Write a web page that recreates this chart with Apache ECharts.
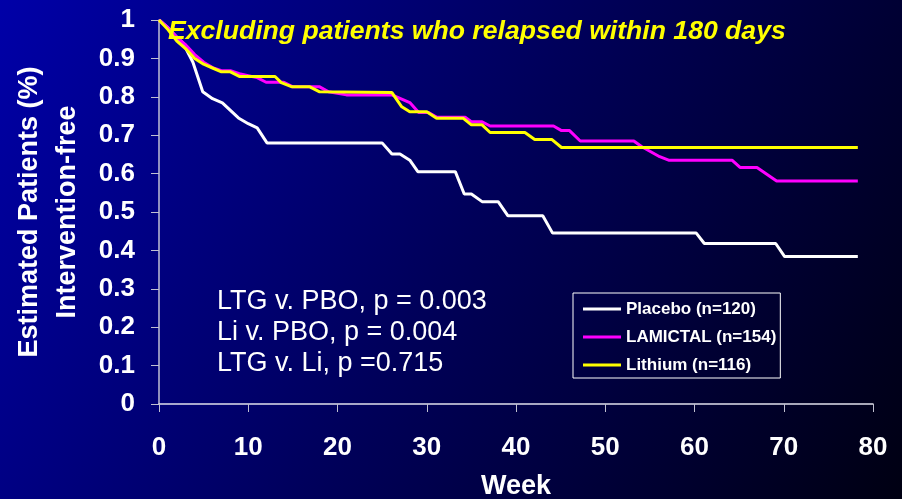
<!DOCTYPE html>
<html>
<head>
<meta charset="utf-8">
<title>Intervention-free</title>
<style>
	html, body { margin: 0; padding: 0; }
	#Chart1 { width: 902px; height: 499px; }
</style>
<script src="https://cdn.jsdelivr.net/npm/echarts@6.0.0/dist/echarts.min.js"></script>
</head>
<body>
<div id="Chart1"></div>
<script>
		// 读图得到的数据 (week, estimated intervention-free)
		var placeboWeeks = [0, 1, 2, 2.7, 3.8, 4.9, 6, 7.1, 8.9, 10, 11, 12.1, 25, 26.1, 27, 28.1, 29, 33.2, 34.2, 35, 36.2, 38, 39.1, 43, 44.1, 60.2, 61.1, 69.1, 70.1, 78.3];
		var placeboRate = [1, 0.98, 0.955, 0.94, 0.89, 0.813, 0.795, 0.784, 0.745, 0.73, 0.719, 0.68, 0.68, 0.651, 0.651, 0.635, 0.605, 0.605, 0.547, 0.547, 0.527, 0.527, 0.49, 0.49, 0.445, 0.445, 0.418, 0.418, 0.384, 0.384];

		var lamictalWeeks = [0, 1, 2, 3, 4, 5, 6, 7, 8, 9, 10, 11, 12, 14, 15, 18, 19, 21, 26.1, 27, 28.1, 29.1, 30.2, 31.1, 34.3, 35, 36.2, 37.1, 44.2, 45.1, 46, 47.2, 53.2, 54.1, 56.1, 57.1, 64.2, 65.1, 67, 69.2, 78.3];
		var lamictalRate = [1, 0.98, 0.955, 0.935, 0.91, 0.89, 0.876, 0.868, 0.868, 0.86, 0.855, 0.85, 0.838, 0.838, 0.826, 0.826, 0.813, 0.805, 0.805, 0.796, 0.785, 0.759, 0.759, 0.747, 0.747, 0.735, 0.735, 0.724, 0.724, 0.712, 0.712, 0.685, 0.685, 0.67, 0.644, 0.635, 0.635, 0.616, 0.616, 0.581, 0.581];

		var lithiumWeeks = [0, 1, 2, 3, 4, 5, 6, 7, 8, 9, 13, 13.7, 14.9, 16.9, 18, 26.1, 27.2, 28.1, 30, 31.1, 34.1, 35, 36.2, 37.1, 41, 42.1, 44, 45.1, 78.3];
		var lithiumRate = [1, 0.975, 0.945, 0.925, 0.9, 0.885, 0.875, 0.865, 0.865, 0.853, 0.853, 0.837, 0.826, 0.826, 0.813, 0.811, 0.774, 0.761, 0.761, 0.744, 0.744, 0.727, 0.727, 0.707, 0.707, 0.689, 0.689, 0.668, 0.668];

		var seriesNames = ['Placebo (n=120)', 'LAMICTAL (n=154)', 'Lithium (n=116)'];
		var pValueLines = ['LTG v. PBO, p = 0.003', 'Li v. PBO, p = 0.004', 'LTG v. Li, p =0.715'];

		function pairs(xs, ys) {
			var out = [];
			for (var i = 0; i < xs.length; i++) {
				out.push([xs[i], ys[i]]);
			}
			return out;
		}

		var font = 'Liberation Sans, Arial, sans-serif';

		var Box1 = document.getElementById('Chart1');
		var instant1 = echarts.init(Box1, null, { renderer: 'canvas' });
		var option1 = {
			animation: false,
			backgroundColor: new echarts.graphic.LinearGradient(0, 0, 1, 1, [
				{ offset: 0, color: '#0000a8' },
				{ offset: 0.5, color: '#00005a' },
				{ offset: 1, color: '#000012' }
			]),
			title: {
				text: 'Excluding patients who relapsed within 180 days',
				left: 168,
				top: 18,
				padding: 0,
				textStyle: {
					color: '#FFFF00',
					fontStyle: 'italic',
					fontWeight: 'bold',
					fontSize: 26.6,
					fontFamily: font
				}
			},
			legend: {
				orient: 'vertical',
				left: 573,
				top: 293,
				padding: [6, 4, 3, 10],
				itemGap: 8,
				itemWidth: 38,
				itemHeight: 3,
				icon: 'rect',
				borderColor: '#FFFFFF',
				borderWidth: 1,
				data: seriesNames,
				textStyle: {
					color: '#FFFFFF',
					fontWeight: 'bold',
					fontSize: 17,
					lineHeight: 20,
					fontFamily: font
				}
			},
			grid: {
				left: 159,
				right: 29,
				top: 20,
				bottom: 95,
				outerBoundsMode: 'none'
			},
			xAxis: {
				type: 'value',
				min: 0,
				max: 80,
				interval: 10,
				name: 'Week',
				nameLocation: 'middle',
				nameGap: 69,
				nameTextStyle: {
					color: '#FFFFFF',
					fontWeight: 'bold',
					fontSize: 27,
					fontFamily: font
				},
				axisLine: {
					lineStyle: { color: '#e0e0ec', width: 1.5 }
				},
				axisTick: {
					length: 8,
					lineStyle: { color: '#c0c0d0' }
				},
				axisLabel: {
					margin: 31,
					color: '#FFFFFF',
					fontWeight: 'bold',
					fontSize: 26,
					fontFamily: font
				},
				splitLine: { show: false }
			},
			yAxis: {
				type: 'value',
				min: 0,
				max: 1,
				interval: 0.1,
				axisLine: {
					show: true,
					lineStyle: { color: '#c0c0d4', width: 1.5 }
				},
				axisTick: {
					show: true,
					length: 8,
					lineStyle: { color: '#c0c0d0' }
				},
				axisLabel: {
					margin: 24,
					color: '#FFFFFF',
					fontWeight: 'bold',
					fontSize: 26,
					fontFamily: font
				},
				splitLine: { show: false }
			},
			graphic: [{
					type: 'text',
					x: 30,
					y: 212,
					rotation: Math.PI / 2,
					style: {
						text: 'Estimated Patients (%)',
						fill: '#FFFFFF',
						font: 'bold 27px ' + font,
						align: 'center',
						verticalAlign: 'middle',
						textAlign: 'center',
						textVerticalAlign: 'middle'
					}
				},
				{
					type: 'text',
					x: 68,
					y: 212,
					rotation: Math.PI / 2,
					style: {
						text: 'Intervention-free',
						fill: '#FFFFFF',
						font: 'bold 27px ' + font,
						align: 'center',
						verticalAlign: 'middle',
						textAlign: 'center',
						textVerticalAlign: 'middle'
					}
				},
				{
					type: 'text',
					x: 217,
					y: 286,
					style: {
						text: pValueLines.join('\n'),
						fill: '#FFFFFF',
						font: '27px ' + font,
						lineHeight: 31,
						align: 'left',
						verticalAlign: 'top',
						textAlign: 'left',
						textVerticalAlign: 'top'
					}
				}
			],
			series: [{
					name: seriesNames[0],
					type: 'line',
					data: pairs(placeboWeeks, placeboRate),
					showSymbol: false,
					symbol: 'none',
					color: '#FFFFFF',
					lineStyle: { width: 3, color: '#FFFFFF' }
				},
				{
					name: seriesNames[1],
					type: 'line',
					data: pairs(lamictalWeeks, lamictalRate),
					showSymbol: false,
					symbol: 'none',
					color: '#FF00FF',
					lineStyle: { width: 3, color: '#FF00FF' }
				},
				{
					name: seriesNames[2],
					type: 'line',
					data: pairs(lithiumWeeks, lithiumRate),
					showSymbol: false,
					symbol: 'none',
					color: '#FFFF00',
					lineStyle: { width: 3, color: '#FFFF00' }
				}
			]
		};
		instant1.setOption(option1);
</script>
</body>
</html>
